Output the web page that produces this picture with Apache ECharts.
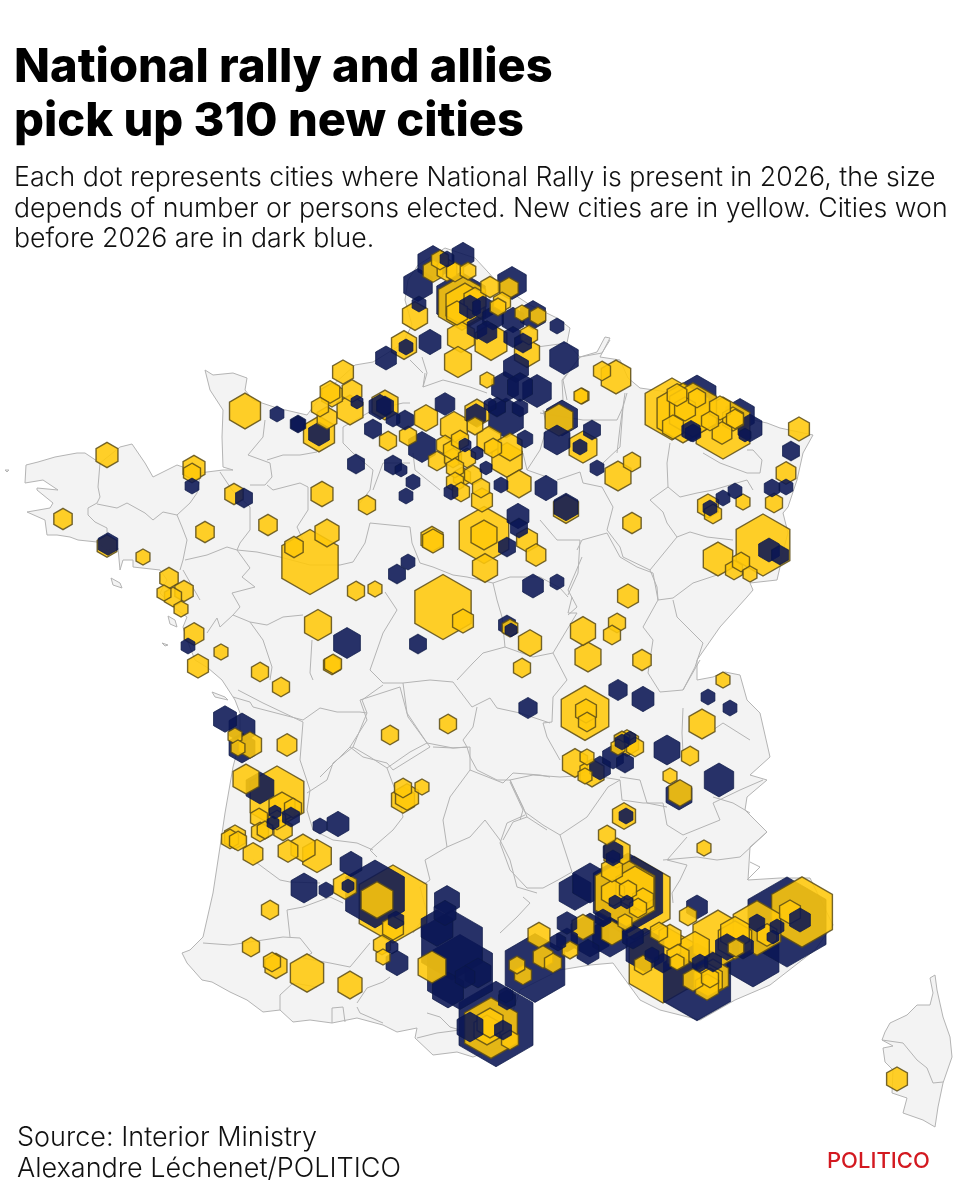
<!DOCTYPE html>
<html>
<head>
<meta charset="utf-8">
<title>National rally and allies pick up 310 new cities</title>
<script src="https://cdn.jsdelivr.net/npm/echarts@6/dist/echarts.min.js"></script>
<style>
  html, body { margin: 0; padding: 0; background: #fff; }
  #chart { width: 960px; height: 1200px; }
</style>
</head>
<body>
<div id="chart"></div>
<script>
// cities: [map x, map y, persons elected]
var newCities = [
  [245,411,20],[107,455,10],[194,468,10],[192,473,6],[234,494,7],[322,494,10],[63,519,7],[268,525,7],[205,532,7],
  [310,562,66],[327,533,12],[294,547,7],[107,546,8],[143,557,4],[169,578,7],[184,591,7],[164,593,4],[173,597,6],
  [181,609,4],[194,634,8],[221,652,4],[198,666,9],[260,672,6],[318,625,15],[332,665,6],[281,687,6],[319,434,20],
  [404,345,13],[415,316,13],[433,271,8],[447,270,8],[455,272,6],[468,271,5],[440,260,6],[462,303,46],[465,305,30],
  [457,313,9],[475,300,10],[490,287,7],[509,288,7],[502,302,6],[498,307,5],[522,313,4],[538,316,5],[529,335,6],
  [461,337,15],[491,342,21],[527,353,13],[458,362,15],[487,380,4],[582,396,4],[477,413,12],[559,420,16],[583,447,16],
  [618,476,14],[632,462,6],[519,484,12],[343,372,9],[352,391,8],[350,410,14],[330,392,8],[320,407,6],[332,395,9],
  [327,418,8],[385,405,14],[388,441,6],[408,436,6],[426,418,11],[367,505,6],
  [454,427,15],[475,426,5],[489,440,12],[493,448,6],[507,460,19],[510,447,12],[437,461,6],[445,445,6],[453,458,6],
  [452,450,6],[460,440,6],[467,458,6],[462,477,6],[473,475,6],[455,468,6],[455,482,6],[461,492,6],[481,488,6],[482,500,9],
  [616,377,18],[602,371,6],[581,396,4],[672,409,60],[683,413,56],[723,428,60],[693,410,46],[677,395,8],[697,398,6],
  [685,409,9],[673,427,9],[710,421,6],[722,433,8],[733,419,9],[735,419,6],[720,408,9],[799,429,9],[786,473,8],
  [774,503,6],[708,506,9],[713,514,6],[743,502,4],[763,545,60],[718,559,18],[734,570,6],[741,562,6],[750,574,4],
  [566,509,13],[632,523,7],[628,596,9],[583,631,13],[617,623,6],[612,635,6],[588,657,14],[642,660,7],
  [484,535,51],[484,535,14],[485,568,13],[536,555,8],[527,540,9],[433,541,9],[432,539,10],[443,607,66],[463,621,9],
  [356,591,6],[375,589,4],[530,643,11],[522,668,6],[333,664,6],[510,628,5],[585,713,47],[586,711,9],[587,722,6],
  [723,680,4],[702,724,14],[690,756,6],[670,776,4],[680,793,11],[448,724,6],[390,735,6],[403,800,11],[403,788,6],
  [422,787,4],[407,797,11],[575,763,13],[592,773,12],[587,757,4],[585,776,4],[627,743,11],[635,747,6],[618,747,4],[622,740,5],
  [235,736,4],[250,745,11],[238,748,4],[287,745,8],[246,779,14],[277,797,60],[282,807,14],[293,808,6],[259,818,6],
  [277,820,6],[265,830,5],[260,832,6],[283,830,7],[235,837,9],[230,839,6],[238,841,6],[253,854,8],[288,851,8],[303,848,12],
  [317,856,17],[270,910,6],[251,947,6],[272,962,6],[276,966,10],[307,973,23],[350,985,12],[345,886,11],[393,904,95],
  [377,900,21],[393,928,9],[382,945,6],[383,957,4],[432,967,16],[491,1028,58],[487,1030,14],[490,1023,14],[510,1040,6],
  [624,816,11],[607,835,6],[617,853,14],[704,848,4],[688,916,6],[634,898,108],[625,893,74],[635,888,30],[612,870,9],[613,893,11],
  [628,890,6],[638,908,6],[643,900,9],[625,922,4],[583,927,10],[612,933,9],[539,935,10],[543,957,8],[553,963,6],[570,950,5],
  [523,975,6],[517,965,5],[663,964,95],[659,932,6],[670,937,10],[643,965,6],[677,962,4],[678,957,10],[718,939,52],
  [695,948,17],[735,933,17],[710,978,6],[708,980,17],[693,980,8],[713,977,20],[707,987,11],[736,948,5],[735,940,23],
  [802,912,77],[757,928,47],[790,912,9],[767,935,8],[897,1079,9]
];
var oldCities = [
  [277,414,4],[298,424,5],[298,424,4],[319,434,9],[192,486,4],[244,498,6],[188,646,4],[347,643,15],[108,544,8],
  [433,263,19],[418,285,17],[463,255,10],[447,259,4],[557,326,4],[430,342,10],[406,347,4],[386,358,9],[564,358,17],
  [512,283,17],[419,304,4],[470,307,9],[483,308,9],[477,328,8],[493,318,9],[513,320,10],[533,315,13],[523,343,6],
  [513,337,7],[487,332,8],[516,368,13],[505,387,15],[520,387,13],[537,391,17],[497,407,6],[520,408,5],[490,405,3],
  [506,418,25],[476,415,8],[562,418,20],[557,440,14],[580,447,4],[592,430,6],[597,468,4],[357,402,3],[385,406,6],
  [380,407,10],[393,419,4],[373,429,6],[405,420,6],[445,404,8],[422,447,15],[356,464,6],[393,465,6],[401,470,3],
  [413,482,4],[406,496,4],[501,485,4],[525,439,5],[465,445,3],[477,453,3],[486,468,3],[451,492,4],
  [691,431,7],[693,433,5],[750,428,12],[745,435,3],[791,451,6],[772,488,5],[786,487,4],[710,508,4],[723,498,4],
  [735,491,4],[769,550,9],[780,555,6],[566,507,12],[546,488,10],[557,582,4],[533,586,9],
  [518,516,10],[519,528,6],[507,547,6],[408,562,4],[397,574,6],[418,644,6],[528,708,7],[618,690,7],[643,699,10],
  [708,697,4],[730,708,4],[667,750,14],[719,780,18],[507,625,6],[511,630,3],[679,795,14],
  [600,768,9],[613,757,9],[625,763,6],[622,742,4],[630,738,3],
  [225,719,11],[242,728,14],[242,748,14],[260,788,16],[291,817,6],[273,823,3],[275,812,3],[320,826,4],[338,824,10],
  [304,888,14],[326,890,4],[351,864,10],[348,886,3],[375,894,72],[396,920,5],[392,947,3],[397,963,10],
  [447,900,13],[445,913,10],[437,928,21],[452,945,77],[460,972,88],[448,990,20],[465,977,8],[478,973,14],
  [503,1030,6],[507,1000,6],[470,1027,14],[506,995,4],[626,816,4],[613,852,8],[613,858,4],
  [697,907,9],[628,893,100],[627,902,3],[615,902,3],[603,918,5],[590,935,30],[610,937,25],[567,923,8],
  [558,942,5],[567,940,9],[588,952,10],[645,950,30],[633,937,9],[663,963,6],[652,955,4],[697,982,94],
  [713,962,6],[700,963,5],[727,947,11],[743,947,9],[800,920,9],[777,927,4],[757,923,5],[773,937,3]
];
// blue cities that sit underneath everything else
var oldCitiesBehind = [
  [461,300,49],[697,397,30],[740,415,17],[575,892,21],[590,883,25],[496,1024,114],[535,968,74],
  [753,957,56],[787,922,127]
];

// base map
var mainland = [
  [205,370],[213,375],[233,373],[247,378],[245,390],[253,400],[277,408],[307,415],[322,395],[355,365],[373,362],[402,344],
  [412,325],[405,300],[408,280],[418,265],[445,248],[475,258],[500,285],[530,305],[557,318],[570,328],[567,343],[580,357],
  [597,352],[605,337],[610,338],[600,357],[620,360],[628,378],[640,388],[668,392],[700,402],[753,420],[767,423],[780,428],
  [813,435],[803,453],[797,480],[788,507],[783,513],[788,533],[782,555],[780,567],[777,580],[750,583],[753,590],[747,597],
  [720,627],[697,660],[697,680],[713,677],[725,672],[740,675],[747,700],[760,713],[770,757],[750,775],[767,780],[747,797],
  [745,810],[767,832],[750,847],[748,880],[780,878],[810,878],[833,925],[815,950],[770,985],[735,1000],[700,1020],
  [660,1010],[640,1000],[613,963],[590,965],[560,970],[520,990],[510,1020],[505,1045],[473,1057],[457,1052],[433,1055],
  [415,1038],[417,1028],[397,1032],[383,1025],[357,1018],[332,1023],[310,1020],[293,1022],[280,1010],[263,1012],[247,1000],
  [230,992],[212,982],[202,980],[187,963],[182,953],[190,950],[203,937],[213,893],[220,847],[225,813],[233,767],[240,740],
  [240,713],[235,700],[222,680],[208,668],[195,660],[187,640],[183,627],[187,617],[173,607],[160,593],[167,580],[160,570],
  [133,567],[133,560],[123,560],[120,570],[118,548],[107,550],[97,542],[78,540],[70,537],[57,535],[47,535],[45,520],[27,512],
  [50,508],[53,503],[37,490],[37,488],[58,490],[43,480],[25,483],[26,465],[38,462],[55,457],[77,453],[85,453],[100,463],
  [120,447],[132,444],[145,463],[153,477],[177,465],[200,473],[207,472],[223,470],[233,470],[223,467],[222,437],[223,410],[210,390]
];
var corsica = [
  [935,975],[930,978],[933,993],[930,1005],[917,1005],[907,1015],[890,1023],[885,1032],[882,1040],[893,1046],[883,1048],
  [885,1062],[893,1070],[892,1093],[907,1098],[903,1113],[923,1120],[935,1127],[938,1107],[943,1083],[952,1057],[950,1037],
  [943,1017],[937,990]
];
var islands = [
  [[111,578],[120,583],[122,588],[113,585]],[[168,616],[175,620],[177,627],[170,624]],
  [[212,692],[225,697],[228,700],[215,697]],[[162,643],[168,645],[165,646]],[[5,470],[9,470],[7,472]]
];
var departments = [
  [[100,463],[98,487],[100,497],[97,503],[88,508],[88,515],[95,522],[107,528],[107,537],[100,540]],
  [[97,504],[117,508],[127,503],[145,513],[153,520],[163,512],[177,515],[190,503],[197,493],[199,483],[200,473]],
  [[177,515],[182,527],[187,540],[183,560],[180,570]],
  [[220,472],[232,490],[250,507],[250,530],[240,543],[237,550]],
  [[185,560],[207,555],[227,547],[237,550],[257,552],[280,557],[310,565],[340,565]],
  [[207,633],[217,618],[220,627],[233,615],[250,622],[267,625],[283,617],[303,615]],
  [[237,550],[250,568],[242,577],[255,587],[232,593],[240,607],[233,615]],
  [[183,570],[200,600]],
  [[250,622],[263,640],[272,667],[270,680]],
  [[312,640],[310,673],[313,680]],
  [[267,485],[273,490],[300,483],[308,487],[308,510],[297,527],[303,540]],
  [[265,420],[263,437],[248,455],[270,463],[272,477],[265,485],[250,485]],
  [[267,460],[283,455],[300,455],[317,452]],
  [[422,357],[427,373],[423,387],[443,380],[470,387],[487,393]],
  [[410,360],[423,373]],
  [[567,343],[537,347]],
  [[580,357],[562,380],[563,400],[543,413]],
  [[627,393],[623,407],[617,420],[583,420],[540,413]],
  [[623,407],[620,447],[603,463]],
  [[370,523],[365,543],[353,562],[340,565]],
  [[370,523],[390,525],[410,527],[412,543],[420,563],[433,567],[453,575],[467,577],[493,583],[497,600],[502,617],[505,647],[483,653],[473,663],[457,680]],
  [[505,647],[533,657],[553,653],[577,613],[568,613],[572,597]],
  [[493,583],[510,577],[540,577],[560,588],[568,597]],
  [[577,550],[582,540],[607,533],[620,557],[637,567],[653,573],[658,600]],
  [[580,540],[578,573],[568,595]],
  [[658,600],[643,627],[653,640],[648,673],[660,692],[683,690],[700,660]],
  [[658,600],[673,598],[693,583],[717,575]],
  [[673,600],[677,617],[703,643],[695,667],[683,690]],
  [[553,653],[567,680],[553,697],[552,722],[543,723],[547,737],[560,760]],
  [[453,682],[472,707],[490,698],[497,708],[520,713],[550,723]],
  [[453,682],[430,680],[403,683],[383,683],[370,670],[383,633],[397,610],[385,592]],
  [[477,707],[473,727],[463,740],[467,747],[453,748],[433,747]],
  [[400,687],[408,717],[430,747]],
  [[400,687],[360,700],[367,720],[350,747],[320,777]],
  [[350,747],[363,757],[387,763],[393,770],[430,747]],
  [[470,757],[477,770],[497,780],[510,780],[533,775],[560,777],[590,775],[620,780]],
  [[470,757],[467,747]],
  [[510,782],[523,810],[520,820]],
  [[683,708],[682,733],[683,753]],
  [[713,730],[723,723],[750,740]],
  [[620,777],[640,780],[647,803],[667,807]],
  [[713,797],[733,803],[750,813]],
  [[510,780],[525,812],[543,825],[560,835],[587,817],[608,787],[620,780]],
  [[500,843],[507,823],[525,815]],
  [[500,843],[510,870],[527,888],[543,888],[558,880],[572,872],[560,835]],
  [[523,897],[530,903],[517,917],[500,933]],
  [[620,780],[622,800],[643,803],[663,803],[667,825],[683,835],[720,820],[713,803],[740,790],[763,780]],
  [[687,837],[667,860],[687,865],[680,880],[672,893],[673,903]],
  [[663,860],[697,857],[717,860],[740,857],[767,832]],
  [[747,880],[760,867],[750,862]],
  [[233,697],[250,702],[253,707],[303,720],[320,708],[337,712],[360,712],[367,713],[362,700],[383,685]],
  [[238,690],[263,703],[303,722],[300,760],[310,790],[307,810]],
  [[367,713],[353,747],[333,763],[327,780],[307,793]],
  [[353,747],[370,757],[387,768],[410,752],[427,743],[453,748],[470,747]],
  [[387,768],[400,803],[403,817],[393,830],[370,850],[377,857]],
  [[403,683],[407,713],[427,743]],
  [[470,747],[470,770],[450,797],[443,820],[447,847]],
  [[447,847],[425,860],[430,880],[420,887],[427,913],[413,933]],
  [[470,770],[503,783],[513,773],[540,775],[550,777]],
  [[447,847],[470,837],[485,820],[500,840],[510,860],[517,887],[537,893]],
  [[503,840],[513,822],[527,817],[547,830]],
  [[510,780],[523,807],[527,817]],
  [[307,810],[313,830],[333,840],[357,843],[373,850]],
  [[253,860],[280,880],[290,882],[320,883]],
  [[290,937],[287,910],[303,907],[330,897],[343,903]],
  [[203,943],[230,945],[283,937],[300,938],[312,953],[303,958],[330,963],[350,967],[370,943]],
  [[280,1010],[280,995],[293,983],[317,987]],
  [[332,1023],[332,1008],[343,1007],[345,1022]],
  [[357,1003],[367,988],[383,982],[390,977]],
  [[357,1007],[360,1013],[383,1023]],
  [[427,1013],[440,1017],[450,1027],[460,1030]],
  [[417,1038],[437,1033],[460,1030]],
  [[425,373],[423,387]],
  [[410,403],[403,403],[373,410],[343,427],[343,443],[353,453]],
  [[373,490],[383,463],[410,463]],
  [[413,453],[415,470],[440,490]],
  [[353,453],[373,470],[370,490],[360,503]],
  [[523,453],[527,470],[547,477]],
  [[543,410],[547,427],[540,450],[527,470]],
  [[610,340],[602,353],[580,357],[563,380],[567,400]],
  [[625,393],[620,427],[617,453]],
  [[557,480],[580,472],[583,483],[602,487]],
  [[602,487],[613,507],[607,530],[620,547],[623,557],[650,570],[677,537],[667,523],[663,512],[650,500],[668,487],[680,497],[697,493],[713,490],[747,480],[753,490]],
  [[668,487],[667,463],[670,443]],
  [[703,453],[720,463],[747,473],[760,473],[762,460],[753,450],[747,450]],
  [[677,537],[690,532],[707,537],[733,540]],
  [[650,570],[657,587],[658,600]],
  [[540,520],[557,540],[580,540]],
  [[582,557],[568,590],[577,607],[568,615]],
  [[882,1040],[903,1043],[917,1060],[927,1068],[933,1083],[943,1082]]
];

var HEXAGON = 'path://M0,-1L0.866,-0.5L0.866,0.5L0,1L-0.866,0.5L-0.866,-0.5Z';
var YELLOW = { color: 'rgba(255,200,10,0.88)', borderColor: 'rgba(92,76,22,0.85)', borderWidth: 1.4, opacity: 1 };
var BLUE = { color: 'rgba(10,22,84,0.88)', borderColor: 'rgba(12,24,70,0.7)', borderWidth: 1, opacity: 1 };

function hexSize(d) {
  return 8 * Math.sqrt(d[2]);
}

function byElected(a, b) {
  return b.value[2] - a.value[2];
}

// bigger cities first, so small ones stay visible on top
var cityItems = newCities.map(function (c) {
  return { value: c, itemStyle: YELLOW };
}).concat(oldCities.map(function (c) {
  return { value: c, itemStyle: BLUE };
})).sort(byElected);

function shapeSeries(shapes, kind, style) {
  return {
    type: 'custom',
    silent: true,
    data: shapes.map(function (s, i) { return [i]; }),
    renderItem: function (params, api) {
      return {
        type: kind,
        shape: { points: shapes[params.dataIndex].map(function (p) { return api.coord(p); }) },
        style: style
      };
    }
  };
}

var textFont = 'Inter';
var chart = echarts.init(document.getElementById('chart'));
chart.setOption({
  animation: false,
  backgroundColor: '#fff',
  title: [
    {
      text: 'National rally and allies\npick up 310 new cities',
      left: 14, top: 41, padding: 0,
      textStyle: { fontFamily: textFont, fontSize: 47, fontWeight: 800, color: '#000', lineHeight: 54 }
    },
    {
      text: 'Each dot represents cities where National Rally is present in 2026, the size\ndepends of number or persons elected. New cities are in yellow. Cities won\nbefore 2026 are in dark blue.',
      left: 14, top: 163, padding: 0,
      textStyle: { fontFamily: textFont, fontSize: 26.7, fontWeight: 300, color: '#111', lineHeight: 30.5 }
    },
    {
      text: 'Source: Interior Ministry\nAlexandre Léchenet/POLITICO',
      left: 17, top: 1122, padding: 0,
      textStyle: { fontFamily: textFont, fontSize: 27, fontWeight: 300, color: '#111', lineHeight: 31 }
    },
    {
      text: 'POLITICO',
      left: 827, top: 1150, padding: 0,
      textStyle: { fontFamily: textFont, fontSize: 22, fontWeight: 500, color: '#d31920' }
    }
  ],
  grid: { left: 0, right: 0, top: 0, bottom: 0 },
  xAxis: { type: 'value', min: 0, max: 960, show: false },
  yAxis: { type: 'value', min: 0, max: 1200, inverse: true, show: false },
  series: [
    shapeSeries([mainland, corsica].concat(islands), 'polygon', { fill: '#f3f3f3', stroke: '#b4b4b4', lineWidth: 1 }),
    shapeSeries(departments, 'polyline', { fill: 'none', stroke: '#b4b4b4', lineWidth: 1 }),
    {
      type: 'scatter',
      silent: true,
      symbol: HEXAGON,
      symbolKeepAspect: true,
      symbolSize: hexSize,
      itemStyle: BLUE,
      data: oldCitiesBehind
    },
    {
      type: 'scatter',
      silent: true,
      symbol: HEXAGON,
      symbolKeepAspect: true,
      symbolSize: hexSize,
      data: cityItems
    }
  ]
});
</script>
</body>
</html>
